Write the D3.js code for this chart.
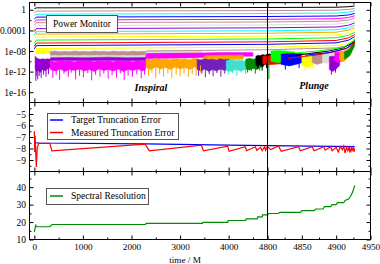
<!DOCTYPE html>
<html>
<head>
<meta charset="utf-8">
<script src="https://cdn.jsdelivr.net/npm/d3@7"></script>
<style>
body { margin: 0; background: #fff; }
svg { display: block; }
svg text { font-family: "Liberation Serif", "Times New Roman", serif; }
</style>
</head>
<body>
<div id="chart"></div>
<script>
// ---- data ----
var xTicks = [0, 1000, 2000, 3000, 4000, 4800, 4850, 4900, 4950];
var xMinorTicks = [500, 1500, 2500, 3500, 4500, 4825, 4875, 4925];
var powerTicks = [0, -4, -8, -12, -16];                 // log10 of power
var powerTickLabels = ['1', '0.0001', '1e-08', '1e-12', '1e-16'];
var powerMinorTicks = [-2, -6, -10, -14];
var truncTicks = [-5, -6, -7, -8, -9];
var truncMinorTicks = [-4.5, -5.5, -6.5, -7.5, -8.5, -9.5];
var resTicks = [10, 20, 30, 40];
var resMinorTicks = [15, 25, 35, 45];

// power monitor, resolved modes: [time, log10 power]
var powerLines = [
	[[0, 1.0], [40, 1.15], [4800, 1.22], [4900, 1.25], [4918, 1.3], [4927, 1.36]],
	[[0, 0.2], [40, 0.38], [4800, 0.45], [4900, 0.5], [4918, 0.6], [4927, 0.75]],
	[[0, -0.5], [40, -0.25], [4800, -0.15], [4900, -0.08], [4918, 0.05], [4927, 0.25]],
	[[0, -1.1], [40, -0.85], [4800, -0.72], [4900, -0.63], [4918, -0.45], [4927, -0.2]],
	[[0, -1.8], [40, -1.42], [4800, -1.3], [4900, -1.2], [4918, -1.0], [4927, -0.7]],
	[[0, -2.4], [40, -1.97], [4800, -1.85], [4900, -1.73], [4918, -1.5], [4927, -1.15]],
	[[0, -3.0], [40, -2.5], [4800, -2.36], [4900, -2.22], [4918, -1.98], [4927, -1.6]],
	[[0, -3.5], [40, -3.08], [4800, -2.93], [4900, -2.78], [4918, -2.5], [4927, -2.1]],
	[[0, -4.2], [40, -3.66], [4800, -3.5], [4900, -3.33], [4918, -3.0], [4927, -2.55]],
	[[0, -4.9], [40, -4.25], [4800, -4.07], [4900, -3.88], [4918, -3.5], [4927, -3.0]],
	[[0, -3.8], [20, -4.3], [40, -4.72], [4800, -4.55], [4900, -4.35], [4918, -3.95], [4927, -3.45]],
	[[0, -5.9], [40, -5.3], [4800, -5.1], [4900, -4.88], [4918, -4.45], [4927, -3.9]],
	[[0, -6.5], [40, -5.88], [4800, -5.66], [4900, -5.42], [4918, -4.95], [4927, -4.35]],
	[[0, -7.1], [40, -6.46], [4800, -6.22], [4900, -5.95], [4918, -5.45], [4927, -4.8]],
	[[0, -7.6], [40, -6.95], [4800, -6.7], [4900, -6.42], [4918, -5.9], [4927, -5.2]],
	[[0, -8.2], [40, -7.52], [4800, -7.25], [4900, -6.95], [4918, -6.4], [4927, -5.65]],
	[[2300, -8.0], [4800, -7.75], [4900, -7.4], [4918, -6.9], [4927, -6.1]],
	[[4830, -9.0], [4860, -8.5], [4890, -8.0], [4910, -7.4], [4927, -6.2]],
	[[4830, -9.4], [4870, -8.8], [4900, -8.1], [4918, -7.3], [4927, -6.4]],
	[[4840, -8.4], [4880, -7.9], [4910, -7.3], [4927, -5.9]],
	[[4855, -8.8], [4890, -8.3], [4915, -7.5], [4927, -6.1]]
];
var powerLineColors = ['#dcdcdc', '#000000', '#bc8f8f', '#00ffff', '#0000ff', '#ff00ff',
	'#bc8f8f', '#dcdcdc', '#9400d3', '#00ffff', '#ffa500', '#ffff00', '#00ff00',
	'#ff0000', '#0000ff', '#ffff00', '#bc8f8f', '#000000', '#ff0000', '#00ff00', '#0000ff'];

// power monitor, modes at the noise floor: [time, upper log10, lower log10]
var noiseBands = [
	[[40, -7.6, -8.6], [80, -7.8, -8.5], [120, -7.9, -8.4], [160, -7.7, -8.5], [200, -7.9, -8.6], [250, -7.8, -8.4], [300, -7.9, -8.5], [330, -7.9, -8.4]],
	[[15, -9.0, -11.5], [40, -9.3, -12.0], [80, -9.5, -11.8], [120, -9.6, -12.2], [170, -9.5, -11.6], [220, -9.6, -11.9], [270, -9.5, -11.5], [330, -9.6, -11.2]],
	[[330, -8.1, -8.9], [430, -8.0, -8.8], [530, -8.15, -8.95], [630, -8.05, -8.8], [730, -8.15, -8.9], [830, -8.0, -8.85], [930, -8.1, -8.95],
	 [1030, -8.05, -8.8], [1130, -8.15, -8.9], [1230, -8.0, -8.85], [1330, -8.1, -8.95], [1430, -8.05, -8.8], [1530, -8.15, -8.9], [1630, -8.0, -8.85],
	 [1730, -8.1, -8.95], [1830, -8.05, -8.8], [1930, -8.15, -8.9], [2030, -8.0, -8.85], [2130, -8.1, -8.95], [2230, -8.05, -8.8], [2300, -8.1, -8.85]],
	[[330, -8.9, -9.3], [800, -8.9, -9.25], [1300, -8.85, -9.3], [1800, -8.9, -9.25], [2290, -8.9, -9.2], [2310, -7.9, -8.5], [2800, -7.9, -8.45], [3200, -7.85, -8.45], [3450, -7.9, -8.4]],
	[[330, -9.3, -9.9], [700, -9.25, -9.85], [1100, -9.3, -9.9], [1500, -9.2, -9.85], [1900, -9.3, -9.9], [2290, -9.25, -9.85], [2310, -8.6, -9.3], [2800, -8.5, -9.25], [3300, -8.5, -9.2]],
	[[330, -9.9, -11.6], [430, -10.1, -11.9], [530, -9.8, -11.5], [630, -10.0, -12.0], [730, -9.9, -11.6], [830, -10.1, -11.8], [930, -9.8, -11.5],
	 [1030, -10.0, -11.9], [1130, -9.9, -11.6], [1230, -10.1, -12.0], [1330, -9.8, -11.5], [1430, -10.0, -11.8], [1530, -9.9, -11.6], [1630, -10.1, -11.9],
	 [1730, -9.8, -11.5], [1830, -10.0, -12.0], [1930, -9.9, -11.6], [2030, -10.1, -11.8], [2130, -9.8, -11.5], [2230, -10.0, -11.9], [2290, -9.9, -11.6],
	 [2310, -8.5, -9.5], [2800, -8.45, -9.4], [3300, -8.4, -9.3], [3800, -8.3, -9.1], [4200, -8.3, -9.0], [4500, -8.3, -9.0]],
	[[2300, -9.5, -11.2], [2400, -9.7, -11.6], [2500, -9.4, -11.1], [2600, -9.6, -11.5], [2700, -9.5, -11.2], [2800, -9.7, -11.6], [2900, -9.4, -11.1],
	 [3000, -9.6, -11.5], [3100, -9.5, -11.2], [3200, -9.7, -11.6], [3300, -9.4, -11.1], [3400, -9.6, -11.4], [3490, -9.5, -11.0],
	 [3510, -8.9, -9.9], [3900, -8.8, -9.8], [4300, -8.8, -9.6]],
	[[3350, -9.6, -11.6], [3430, -9.8, -11.9], [3510, -9.5, -11.5], [3590, -9.7, -12.0], [3670, -9.6, -11.6], [3750, -9.8, -11.9], [3830, -9.5, -11.5], [3910, -9.7, -11.8], [4000, -9.6, -11.5]],
	[[3950, -9.9, -11.8], [4050, -9.7, -12.0], [4150, -9.9, -11.6], [4250, -9.8, -11.9], [4330, -10.0, -11.6], [4400, -9.8, -11.5]],
	[[4350, -9.6, -11.5], [4430, -9.4, -11.7], [4500, -9.6, -11.4], [4580, -9.4, -11.6], [4650, -9.5, -11.2], [4720, -9.4, -11.0]],
	[[4560, -9.0, -10.8], [4610, -8.8, -11.0], [4650, -8.9, -10.7], [4700, -8.7, -10.9], [4750, -8.8, -10.6], [4790, -8.6, -10.5], [4830, -8.6, -10.2]],
	[[4700, -9.0, -10.5], [4770, -8.9, -10.7], [4830, -8.8, -10.4]],
	[[4805, -8.0, -10.0], [4815, -7.9, -10.3], [4828, -8.0, -9.9], [4840, -8.2, -9.6]],
	[[4820, -8.6, -10.6], [4832, -8.5, -10.9], [4844, -8.5, -10.5], [4855, -8.6, -10.1]],
	[[4850, -8.7, -10.8], [4857, -8.6, -11.2], [4864, -8.7, -10.9], [4870, -8.8, -10.3]],
	[[4865, -8.4, -10.2], [4872, -8.3, -10.6], [4880, -8.4, -10.3], [4890, -8.5, -9.9]],
	[[4880, -8.3, -10.2], [4886, -8.2, -10.4], [4893, -8.3, -10.0], [4900, -8.4, -9.7]],
	[[4890, -9.1, -11.6], [4895, -9.0, -12.0], [4900, -9.1, -11.5], [4905, -9.2, -10.8]],
	[[4898, -8.3, -10.0], [4904, -8.2, -10.3], [4910, -8.1, -9.8], [4915, -7.9, -9.2]],
	[[4905, -8.1, -9.8], [4911, -8.0, -10.1], [4917, -7.6, -9.3], [4922, -7.0, -8.4]],
	[[4912, -8.2, -9.6], [4920, -7.6, -8.9], [4927, -5.6, -7.0]]
];
var noiseColors = ['#ffff00', '#9400d3', '#bc8f8f', '#dcdcdc', '#9400d3', '#ff00ff',
	'#ffa500', '#7221bc', '#40e0d0', '#008b00', '#000000', '#ff0000',
	'#00ff00', '#0000ff', '#ffff00', '#bc8f8f', '#dcdcdc', '#9400d3',
	'#ff00ff', '#ffa500', '#008b00'];

// downward noise spikes: [time, top log10, bottom log10]
var noiseSpikes = [
	[[30, -10.5, -13.8], [50, -10.5, -12.9], [70, -10.5, -13.5], [100, -10.5, -12.8], [140, -10.5, -13.2], [190, -10.5, -12.6], [240, -10.5, -13.0], [290, -10.5, -12.5]],
	[[380, -11.0, -13.2], [450, -11.0, -12.6], [520, -11.0, -13.6], [610, -11.0, -12.4], [700, -11.0, -13.0], [760, -11.0, -12.2], [850, -11.0, -13.5], [930, -11.0, -12.8],
	 [1010, -11.0, -13.1], [1100, -11.0, -12.3], [1180, -11.0, -13.7], [1260, -11.0, -12.6], [1350, -11.0, -13.0], [1430, -11.0, -12.4], [1520, -11.0, -13.4], [1600, -11.0, -12.7],
	 [1690, -11.0, -13.2], [1770, -11.0, -12.3], [1850, -11.0, -13.6], [1930, -11.0, -12.8], [2020, -11.0, -13.0], [2110, -11.0, -12.5], [2200, -11.0, -13.3], [2270, -11.0, -12.6]],
	[[2350, -10.8, -12.8], [2420, -10.8, -12.2], [2500, -10.8, -13.3], [2580, -10.8, -12.5], [2660, -10.8, -13.0], [2750, -10.8, -12.4], [2830, -10.8, -13.2], [2920, -10.8, -12.6],
	 [3000, -10.8, -12.9], [3080, -10.8, -12.3], [3170, -10.8, -13.1], [3250, -10.8, -12.5], [3330, -10.8, -12.8], [3420, -10.8, -12.2]],
	[[3380, -11.0, -12.8], [3450, -11.0, -12.4], [3520, -11.0, -13.1], [3600, -11.0, -12.5], [3680, -11.0, -12.9], [3760, -11.0, -12.3], [3840, -11.0, -13.0], [3920, -11.0, -12.4]],
	[[3990, -11.0, -12.6], [4080, -11.0, -12.3], [4170, -11.0, -12.8], [4260, -11.0, -12.2], [4350, -11.0, -12.5]],
	[[4390, -10.8, -12.2], [4470, -10.8, -11.9], [4550, -10.8, -12.4], [4640, -10.8, -11.8], [4802, -9.5, -13.5]],
	[[4600, -10.3, -11.5], [4690, -10.3, -11.8], [4780, -10.3, -11.3]],
	[[4826, -10.2, -11.6], [4846, -10.2, -11.3]],
	[[4855, -10.5, -11.9], [4866, -10.5, -11.6]],
	[[4893, -11.0, -12.6], [4899, -11.0, -12.2]]
];
var spikeColors = ['#9400d3', '#ff00ff', '#ffa500', '#7221bc', '#40e0d0', '#008b00', '#000000', '#0000ff', '#ffff00', '#9400d3'];

// truncation error: [time, log10 error]
var targetError = [[0, -7.5], [100, -7.52], [2300, -7.6], [4000, -7.7], [4800, -7.75], [4927, -7.84]];
var measuredError = [
	[0, -6.5], [8, -8.3], [16, -6.9], [25, -8.0], [40, -9.6], [60, -7.9], [90, -7.55],
	[320, -7.55], [360, -8.2], [2280, -7.62], [2370, -8.2], [3440, -7.7], [3480, -8.2],
	[3980, -7.8], [4010, -8.25], [4340, -7.85], [4370, -8.2], [4550, -7.85], [4580, -8.15],
	[4660, -7.9], [4690, -8.2], [4740, -7.85], [4760, -8.15], [4795, -7.85], [4805, -8.1],
	[4816, -7.78], [4820, -8.25], [4845, -7.85], [4848, -8.2], [4865, -7.85], [4868, -8.2],
	[4882, -7.85], [4884, -8.15], [4892, -7.85], [4894, -8.2], [4900, -7.9], [4903, -8.3],
	[4906, -7.85], [4909, -8.1], [4911, -7.8], [4913, -8.4], [4915, -7.9], [4917, -8.2],
	[4919, -7.85], [4920, -8.35], [4922, -7.95], [4923, -8.2], [4925, -7.9], [4926, -8.3], [4927, -8.0]
];

// spectral resolution: [time, resolution]
var resolution = [
	[0, 14.4], [15, 16.5], [30, 18.2], [50, 17.3], [318, 17.3], [365, 18.6], [2290, 18.6],
	[2300, 19.2], [3460, 19.2], [3470, 19.8], [3980, 19.8], [3990, 20.9], [4350, 20.9],
	[4360, 21.8], [4590, 21.8], [4600, 23.0], [4690, 23.0], [4700, 24.1], [4800, 24.1],
	[4802, 24.9], [4816, 24.9], [4818, 25.6], [4848, 25.6], [4850, 26.6], [4868, 26.6],
	[4870, 27.5], [4881, 27.5], [4883, 28.9], [4892, 28.9], [4894, 30.0], [4900, 30.0],
	[4902, 31.1], [4911, 31.1], [4913, 32.4], [4918, 33.2], [4921, 34.8], [4924, 37.2], [4927, 41.0]
];

// ---- drawing ----
var W = 380, H = 264;
var font = '"Liberation Serif", "Times New Roman", serif';

var svg = d3.select('#chart').append('svg')
	.attr('width', W).attr('height', H)
	.attr('font-family', font);

var x = d3.scaleLinear().domain([-100, 4800, 4950]).range([29.5, 267.5, 370.5]);
var yP = d3.scaleLinear().domain([-18, 1.42]).range([102.5, 2.5]);
var yT = d3.scaleLinear().domain([-10, -4]).range([171.5, 102.5]);
var yR = d3.scaleLinear().domain([10, 49]).range([239.5, 171.5]);

var panels = [
	{y: yP, ticks: powerTicks, minor: powerMinorTicks, fmt: function(d, i) { return powerTickLabels[i]; }},
	{y: yT, ticks: truncTicks, minor: truncMinorTicks, fmt: d3.format('d')},
	{y: yR, ticks: resTicks, minor: resMinorTicks, fmt: d3.format('d')}
];

var x0 = x.range()[0], x1 = x.range()[2];

panels.forEach(function(p, k) {
	var top = p.y.range()[1], bottom = p.y.range()[0];
	svg.append('clipPath').attr('id', 'clip' + k)
		.append('rect').attr('x', x0).attr('y', top).attr('width', x1 - x0).attr('height', bottom - top);
});

function styleAxis(g) {
	g.select('.domain').remove();
	g.attr('font-family', font).attr('font-size', 9.5);
	g.selectAll('line').attr('stroke', '#000');
	g.selectAll('text').attr('fill', '#000').attr('font-family', font);
}

// power monitor
var gPower = svg.append('g').attr('clip-path', 'url(#clip0)');
var linePower = d3.line().x(function(d) { return x(d[0]); }).y(function(d) { return yP(d[1]); });
var areaPower = d3.area()
	.x(function(d) { return x(d[0]); })
	.y0(function(d) { return yP(d[2]); })
	.y1(function(d) { return yP(d[1]); });

gPower.selectAll('path.band')
	.data(noiseBands)
	.enter().append('path')
		.attr('class', 'band')
		.attr('fill', function(d, i) { return noiseColors[i]; })
		.attr('stroke', function(d, i) { return noiseColors[i]; })
		.attr('stroke-width', 0.5)
		.attr('d', areaPower);

noiseSpikes.forEach(function(s, k) {
	gPower.selectAll('line.spike' + k)
		.data(s)
		.enter().append('line')
			.attr('class', 'spike' + k)
			.attr('x1', function(d) { return x(d[0]); })
			.attr('x2', function(d) { return x(d[0]); })
			.attr('y1', function(d) { return yP(d[1]); })
			.attr('y2', function(d) { return yP(d[2]); })
			.attr('stroke', spikeColors[k])
			.attr('stroke-width', 1);
});

gPower.selectAll('path.mode')
	.data(powerLines)
	.enter().append('path')
		.attr('class', 'mode')
		.attr('fill', 'none')
		.attr('stroke-width', 1)
		.attr('stroke', function(d, i) { return powerLineColors[i]; })
		.attr('d', linePower);

// truncation error
var gTrunc = svg.append('g').attr('clip-path', 'url(#clip1)');
var lineTrunc = d3.line().x(function(d) { return x(d[0]); }).y(function(d) { return yT(d[1]); });
gTrunc.append('path').attr('fill', 'none').attr('stroke', '#0000ff').attr('stroke-width', 1.2).attr('d', lineTrunc(targetError));
gTrunc.append('path').attr('fill', 'none').attr('stroke', '#ff0000').attr('stroke-width', 1.2).attr('d', lineTrunc(measuredError));

// spectral resolution
var gRes = svg.append('g').attr('clip-path', 'url(#clip2)');
var lineRes = d3.line().x(function(d) { return x(d[0]); }).y(function(d) { return yR(d[1]); });
gRes.append('path').attr('fill', 'none').attr('stroke', '#008b00').attr('stroke-width', 1.2).attr('d', lineRes(resolution));

// frames and axes
panels.forEach(function(p, k) {
	var top = p.y.range()[1], bottom = p.y.range()[0];

	svg.append('rect')
		.attr('x', x0).attr('y', top).attr('width', x1 - x0).attr('height', bottom - top)
		.attr('fill', 'none').attr('stroke', '#000');

	svg.append('g').attr('transform', 'translate(' + x0 + ',0)')
		.call(d3.axisLeft(p.y).tickValues(p.ticks).tickFormat(p.fmt).tickSizeInner(-4).tickSizeOuter(0).tickPadding(3.5))
		.call(styleAxis);
	svg.append('g').attr('transform', 'translate(' + x0 + ',0)')
		.call(d3.axisLeft(p.y).tickValues(p.minor).tickFormat('').tickSizeInner(-2).tickSizeOuter(0))
		.call(styleAxis);
	svg.append('g').attr('transform', 'translate(' + x1 + ',0)')
		.call(d3.axisRight(p.y).tickValues(p.ticks).tickFormat('').tickSizeInner(-4).tickSizeOuter(0))
		.call(styleAxis);
	svg.append('g').attr('transform', 'translate(' + x1 + ',0)')
		.call(d3.axisRight(p.y).tickValues(p.minor).tickFormat('').tickSizeInner(-2).tickSizeOuter(0))
		.call(styleAxis);

	svg.append('g').attr('transform', 'translate(0,' + top + ')')
		.call(d3.axisTop(x).tickValues(xTicks).tickFormat('').tickSizeInner(-4).tickSizeOuter(0))
		.call(styleAxis);
	svg.append('g').attr('transform', 'translate(0,' + top + ')')
		.call(d3.axisTop(x).tickValues(xMinorTicks).tickFormat('').tickSizeInner(-2).tickSizeOuter(0))
		.call(styleAxis);
	svg.append('g').attr('transform', 'translate(0,' + bottom + ')')
		.call(d3.axisBottom(x).tickValues(xTicks).tickFormat(k == 2 ? d3.format('d') : '').tickSizeInner(-4).tickSizeOuter(0).tickPadding(3.5))
		.call(styleAxis)
		.attr('font-size', 9.2);
	svg.append('g').attr('transform', 'translate(0,' + bottom + ')')
		.call(d3.axisBottom(x).tickValues(xMinorTicks).tickFormat('').tickSizeInner(-2).tickSizeOuter(0))
		.call(styleAxis);
});

// inspiral / plunge divider
svg.append('line')
	.attr('x1', x(4800)).attr('x2', x(4800))
	.attr('y1', yP.range()[1]).attr('y2', yR.range()[0])
	.attr('stroke', '#000');

svg.append('text').attr('x', 185).attr('y', 262.5).attr('text-anchor', 'middle')
	.attr('font-size', 9.2).text('time / M');

svg.append('text').attr('x', 151).attr('y', 91).attr('text-anchor', 'middle')
	.attr('font-size', 10).attr('font-weight', 'bold').attr('font-style', 'italic').text('Inspiral');
svg.append('text').attr('x', 314).attr('y', 89).attr('text-anchor', 'middle')
	.attr('font-size', 10).attr('font-weight', 'bold').attr('font-style', 'italic').text('Plunge');

// legends
function legendBox(bx, by, bw, bh) {
	svg.append('rect').attr('x', bx + 0.5).attr('y', by + 0.5).attr('width', bw).attr('height', bh)
		.attr('fill', '#fff').attr('stroke', '#555');
}
function legendEntry(lx, ly, color, label) {
	if (color) {
		svg.append('line').attr('x1', lx).attr('x2', lx + 13).attr('y1', ly).attr('y2', ly)
			.attr('stroke', color).attr('stroke-width', 1.5);
	}
	svg.append('text').attr('x', color ? lx + 21 : lx).attr('y', ly + 3.3)
		.attr('font-size', 9.5).text(label);
}

legendBox(46, 15, 71, 17);
legendEntry(53, 23.5, null, 'Power Monitor');

legendBox(47, 113, 131, 26);
legendEntry(50, 120, '#0000ff', 'Target Truncation Error');
legendEntry(50, 132.5, '#ff0000', 'Measured Truncation Error');

legendBox(46, 188, 102, 16);
legendEntry(50, 196, '#008b00', 'Spectral Resolution');
</script>
</body>
</html>
